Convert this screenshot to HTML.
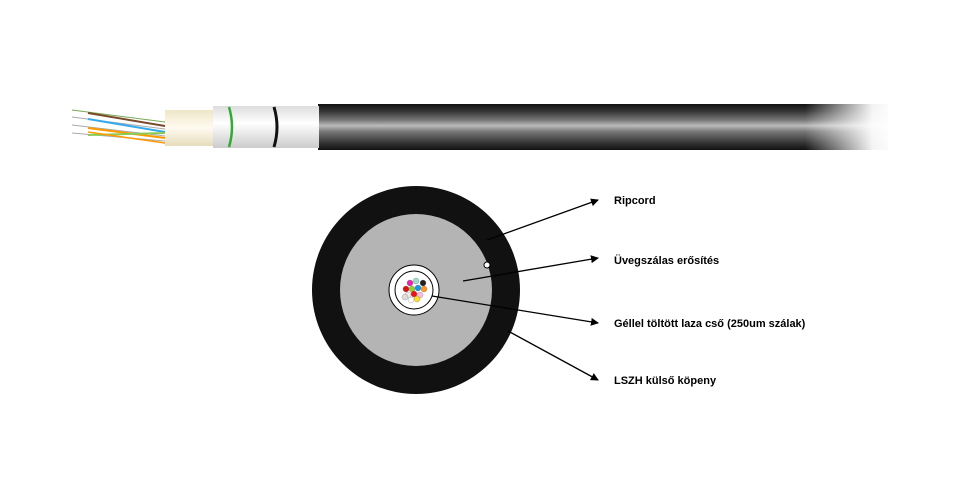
<!DOCTYPE html><html><head><style>body{margin:0;background:#fff}svg{display:block}text{font-family:"Liberation Sans",sans-serif;font-size:11px;font-weight:bold;fill:#000}</style></head><body>
<svg width="960" height="504" viewBox="0 0 960 504" xmlns="http://www.w3.org/2000/svg">
<defs>
<linearGradient id="blk" x1="0" y1="0" x2="0" y2="1"><stop offset="0" stop-color="#111"/><stop offset="0.15" stop-color="#333"/><stop offset="0.35" stop-color="#777"/><stop offset="0.47" stop-color="#bbb"/><stop offset="0.6" stop-color="#777"/><stop offset="0.85" stop-color="#333"/><stop offset="1" stop-color="#111"/></linearGradient>
<linearGradient id="fade" x1="0" y1="0" x2="1" y2="0"><stop offset="0" stop-color="#fff" stop-opacity="0"/><stop offset="0.75" stop-color="#fff" stop-opacity="0.95"/><stop offset="1" stop-color="#fff"/></linearGradient>
<linearGradient id="wh" x1="0" y1="0" x2="0" y2="1"><stop offset="0" stop-color="#ddd"/><stop offset="0.4" stop-color="#fff"/><stop offset="1" stop-color="#ccc"/></linearGradient>
<linearGradient id="cr" x1="0" y1="0" x2="0" y2="1"><stop offset="0" stop-color="#efe6c8"/><stop offset="0.5" stop-color="#fffbf0"/><stop offset="1" stop-color="#e6dcbc"/></linearGradient>
<marker id="a" markerWidth="8" markerHeight="8" refX="7" refY="4" orient="auto" markerUnits="userSpaceOnUse"><path d="M0,0L8,4L0,8z" fill="#000"/></marker>
</defs>
<rect x="318" y="104" width="570" height="46" fill="url(#blk)"/>
<rect x="805" y="100" width="90" height="54" fill="url(#fade)"/>
<rect x="213" y="106" width="106" height="42" fill="url(#wh)"/>
<path d="M229,107 q6,20 0,40" stroke="#3a3" stroke-width="2.5" fill="none"/>
<path d="M274,107 q6,20 0,40" stroke="#111" stroke-width="3" fill="none"/>
<rect x="165" y="110" width="48" height="36" fill="url(#cr)"/>
<path d="M72,110 L165,122" stroke="#7a5" stroke-width="1"/>
<path d="M88,113 L165,126" stroke="#7a4a2a" stroke-width="2"/>
<path d="M72,117 L165,129" stroke="#aaa" stroke-width="1"/>
<path d="M88,119 L165,132" stroke="#3ae" stroke-width="2"/>
<path d="M72,125 L165,136" stroke="#aaa" stroke-width="1"/>
<path d="M88,128 L165,138" stroke="#f90" stroke-width="2"/>
<path d="M72,133 L165,141" stroke="#aaa" stroke-width="1"/>
<path d="M88,135 L165,133" stroke="#8c5" stroke-width="2"/>
<path d="M88,132 L165,143" stroke="#f90" stroke-width="1.5"/>
<circle cx="416" cy="290" r="104" fill="#111"/>
<circle cx="416" cy="290" r="76" fill="#b4b4b4"/>
<circle cx="487" cy="265" r="3" fill="#fff" stroke="#000" stroke-width="1"/>
<circle cx="414" cy="290" r="25" fill="#fff" stroke="#000" stroke-width="1"/>
<circle cx="414" cy="290" r="19" fill="#fff" stroke="#000" stroke-width="1"/>
<g stroke="#666" stroke-width="0.3">
<circle cx="410" cy="283" r="3" fill="#e2a"/><circle cx="416" cy="281" r="3" fill="#9dc"/><circle cx="423" cy="283" r="3" fill="#222"/>
<circle cx="406" cy="289" r="3" fill="#d11"/><circle cx="412" cy="289" r="3" fill="#9c3"/><circle cx="418" cy="288" r="3" fill="#19e"/><circle cx="424" cy="289" r="3" fill="#f92"/>
<circle cx="408" cy="295" r="3" fill="#eee"/><circle cx="414" cy="294" r="3" fill="#e11"/><circle cx="420" cy="295" r="3" fill="#fbd"/>
<circle cx="411" cy="300" r="3" fill="#fff"/><circle cx="417" cy="299" r="3" fill="#fd2"/><circle cx="405" cy="297" r="3" fill="#ddd"/>
</g>
<g stroke="#000" stroke-width="1.3" marker-end="url(#a)">
<line x1="487" y1="240" x2="598" y2="200"/>
<line x1="463" y1="281" x2="598" y2="258"/>
<line x1="432" y1="296" x2="598" y2="323"/>
<line x1="508" y1="331" x2="598" y2="380"/>
</g>
<text x="614" y="204">Ripcord</text>
<text x="614" y="264">Üvegszálas erősítés</text>
<text x="614" y="327">Géllel töltött laza cső (250um szálak)</text>
<text x="614" y="384">LSZH külső köpeny</text>
</svg></body></html>
